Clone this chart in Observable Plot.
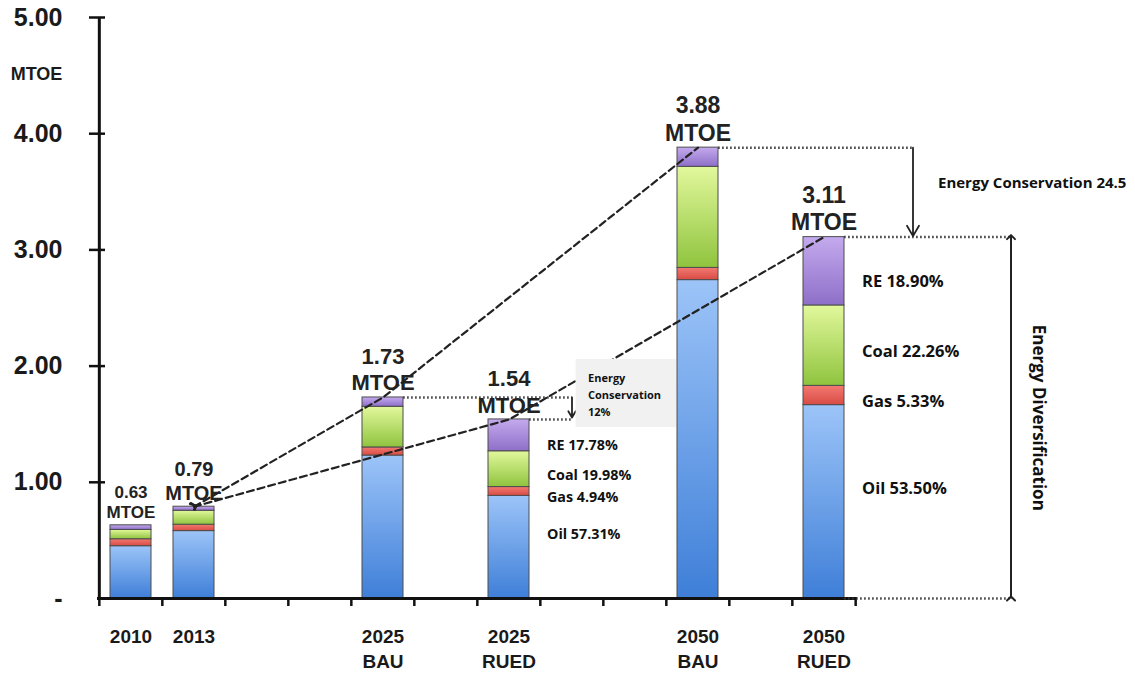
<!DOCTYPE html>
<html><head><meta charset="utf-8">
<script src="https://cdn.jsdelivr.net/npm/d3@7"></script>
<script src="https://cdn.jsdelivr.net/npm/@observablehq/plot@0.6"></script>
<style>body{margin:0;background:#fff;} svg{overflow:visible;}</style>
</head><body><div id="chart"></div>
<script>
// ---- data ----
const slots = ["2010","2013","gap1","gap2","2025 BAU","gap3","2025 RUED","gap4","gap5","2050 BAU","gap6","2050 RUED"];
const categories = ["2010","2013","2025 BAU","2025 RUED","2050 BAU","2050 RUED"];
const tickLabels = ["2010","2013","2025\nBAU","2025\nRUED","2050\nBAU","2050\nRUED"];
const fuels = ["Oil","Gas","Coal","RE"];
const oil  = [0.45, 0.58, 1.23, 0.883, 2.74, 1.664];
const gas  = [0.06, 0.055, 0.07, 0.076, 0.105, 0.166];
const coal = [0.08, 0.12, 0.35, 0.308, 0.87, 0.692];
const re   = [0.04, 0.035, 0.08, 0.274, 0.165, 0.588];
const totals = [0.63, 0.79, 1.73, 1.54, 3.88, 3.11];
const yTicks = [0, 1, 2, 3, 4, 5];
const shareCategories = ["2025 RUED", "2050 RUED"];
const oilShare  = ["57.31%", "53.50%"];
const gasShare  = ["4.94%", "5.33%"];
const coalShare = ["19.98%", "22.26%"];
const reShare   = ["17.78%", "18.90%"];
const bauPath  = ["2013", "2025 BAU", "2050 BAU"];
const ruedPath = ["2013", "2025 RUED", "2050 RUED"];
const conservation2025 = "Energy\nConservation\n12%";
const conservation2050 = "Energy Conservation 24.5";
const diversification = "Energy Diversification";

// ---- tables ----
const series = {Oil: oil, Gas: gas, Coal: coal, RE: re};
const shares = {Oil: oilShare, Gas: gasShare, Coal: coalShare, RE: reShare};
const tidy = [];
categories.forEach((c, i) => fuels.forEach(f => tidy.push({cat: c, fuel: f, value: series[f][i]})));
const totalOf = c => totals[categories.indexOf(c)];
const totalRows = categories.map((c, i) => ({cat: c, total: totals[i]}));
const paths = [
  ...bauPath.map(c => ({scen: "BAU", cat: c, total: totalOf(c)})),
  ...ruedPath.map(c => ({scen: "RUED", cat: c, total: totalOf(c)}))
];
const shareRows = [];
shareCategories.forEach((c, j) => {
  const i = categories.indexOf(c);
  let acc = 0;
  fuels.forEach(f => {
    const v = series[f][i];
    shareRows.push({cat: c, fuel: f, mid: acc + v / 2, label: f + " " + shares[f][j]});
    acc += v;
  });
});

// ---- layout ----
const W = 1135, H = 683, ML = 97, MR = 278, MT = 17, MB = 85;
const step = (W - ML - MR) / slots.length;
const bw = step * 0.65;
const gradIds = ["g-oil", "g-gas", "g-coal", "g-re"];
const labelSize = c => c === "2010" ? 17 : c === "2013" ? 20 : c.startsWith("2025") ? 22 : 23;
const pctSize = c => c.startsWith("2025") ? 14.3 : 16.5;
const pctDy = {Oil: -13, Gas: 6, Coal: 6, RE: 10};
const calib = "'Open Sans', 'Noto Sans', sans-serif";

const r2025 = [{y: totals[2], x1: "2025 BAU", x2: "2025 RUED"}];
const r2025b = [{y: totals[3], x1: "2025 RUED", x2: "2025 RUED"}];
const r2050 = [{y: totals[4], x1: "2050 BAU", x2: "2050 RUED"}];
const r2050b = [{y: totals[5], x1: "2050 RUED", x2: "2050 RUED"}, {y: 0, x1: "2050 RUED", x2: "2050 RUED"}];
const arr2025 = [{x: "gap4", y1: totals[2], y2: totals[3]}];
const arr2050 = [{x: "2050 RUED", y1: totals[4], y2: totals[5]}];
const div2050 = [{x: "2050 RUED", y1: 0, y2: totals[5]}];

const dotted = {stroke: "#333", strokeWidth: 2.5, strokeDasharray: "1.5,2.5"};

const plot = Plot.plot({
  width: W, height: H,
  marginLeft: ML, marginRight: MR, marginTop: MT, marginBottom: MB,
  style: {fontFamily: "'Liberation Sans', Arial, sans-serif", color: "#1a1a1a", overflow: "visible"},
  x: {type: "band", domain: slots, paddingInner: 0.35, paddingOuter: 0.175},
  y: {domain: [0, 5]},
  color: {type: "ordinal", domain: fuels, range: gradIds.map(id => `url(#${id})`)},
  marks: [
    Plot.barY(tidy, {x: "cat", y: "value", fill: "fuel", stroke: "#4d4d4d", strokeWidth: 1}),
    // axes lines
    Plot.ruleY([0], {strokeWidth: 3, stroke: "#111"}),
    Plot.ruleX([slots[0]], {x: d => d, y1: 0, y2: 5, dx: -step / 2, strokeWidth: 3, stroke: "#111"}),
    Plot.ruleY(yTicks.slice(1), {y: d => d, insetLeft: -8, insetRight: (W - ML - MR) - 8, strokeWidth: 2.5, stroke: "#111"}),
    Plot.ruleX(slots, {x: d => d, y1: 0, y2: 0, dx: -step / 2, insetBottom: -8, strokeWidth: 2.5, stroke: "#111"}),
    Plot.ruleX([slots[slots.length - 1]], {x: d => d, y1: 0, y2: 0, dx: step / 2, insetBottom: -8, strokeWidth: 2.5, stroke: "#111"}),
    // dashed trend lines
    Plot.line(paths, {x: "cat", y: "total", z: "scen", stroke: "#222", strokeWidth: 2.2, strokeDasharray: "7,4", markerStart: "arrow"}),
    // dotted guide lines
    Plot.ruleY(r2025, {y: "y", x1: "x1", x2: "x2", insetLeft: bw, insetRight: -(step - bw / 2), ...dotted}),
    Plot.ruleY(r2025b, {y: "y", x1: "x1", x2: "x2", insetLeft: bw, insetRight: -(step - bw / 2), ...dotted}),
    Plot.arrow(arr2025, {x1: "x", x2: "x", y1: "y1", y2: "y2", stroke: "#222", strokeWidth: 1.8, headLength: 9, insetEnd: 2}),
    Plot.ruleY(r2050, {y: "y", x1: "x1", x2: "x2", insetLeft: bw, insetRight: -68, ...dotted}),
    Plot.ruleY(r2050b, {y: "y", x1: "x1", x2: "x2", insetLeft: bw, insetRight: -168, ...dotted}),
    Plot.arrow(arr2050, {x1: "x", x2: "x", y1: "y1", y2: "y2", dx: 89, stroke: "#222", strokeWidth: 1.8, headLength: 10, insetEnd: 1}),
    Plot.link(div2050, {x1: "x", x2: "x", y1: "y1", y2: "y2", dx: 187, stroke: "#222", strokeWidth: 2, markerStart: "arrow", markerEnd: "arrow"}),
    // conservation 12% box
    Plot.rect([{x1: "gap4", x2: "gap5", y1: totals[3], y2: totals[2]}], {x1: "x1", x2: "x2", y1: "y1", y2: "y2", insetLeft: bw / 2 + 4, insetRight: -21, insetTop: -38, insetBottom: -8, fill: "#f1f1f1"}),
    Plot.text([conservation2025], {x: () => "gap4", y: () => totals[2], text: d => d, dx: 16, dy: -28, textAnchor: "start", lineAnchor: "top", lineHeight: 1.55, fontSize: 11, fontWeight: "bold", fontFamily: calib, fill: "#111"}),
    // totals labels
    Plot.text(totalRows, {x: "cat", y: "total", text: d => d.total.toFixed(2) + "\nMTOE", lineAnchor: "bottom", dy: -7, lineHeight: 1.2, fontSize: d => labelSize(d.cat), fontWeight: "bold", fill: "#222"}),
    // share labels
    ...fuels.map(f => Plot.text(shareRows.filter(r => r.fuel === f), {x: "cat", y: "mid", text: "label", dx: 38, dy: pctDy[f], textAnchor: "start", fontSize: d => pctSize(d.cat), fontWeight: "bold", fontFamily: calib, fill: "#111"})),
    // right annotations
    Plot.text([conservation2050], {x: () => "2050 RUED", y: () => (totals[4] + totals[5]) / 2, text: d => d, dx: 114, dy: -9, textAnchor: "start", fontSize: 15, fontWeight: "bold", fontFamily: calib, fill: "#111"}),
    Plot.text([diversification], {x: () => "2050 RUED", y: () => totals[5] / 2, text: d => d, dx: 214, rotate: 90, fontSize: 17, fontWeight: "bold", fontFamily: calib, fill: "#111"}),
    // axes
    Plot.axisY({ticks: yTicks, tickFormat: d => d === 0 ? "-" : d.toFixed(2), tickSize: 0, tickPadding: 35, fontSize: 25, fontWeight: "bold", label: null}),
    Plot.text(["MTOE"], {frameAnchor: "top-left", text: d => d, textAnchor: "middle", dx: -61, dy: 50, fontSize: 18, fontWeight: "bold", fill: "#1a1a1a"}),
    Plot.axisX({ticks: categories, tickFormat: d => tickLabels[categories.indexOf(d)], tickSize: 0, tickPadding: 26, fontSize: 19, fontWeight: "bold", lineHeight: 1.35, label: null})
  ]
});

// gradients
const svg = d3.select(plot);
const defs = svg.insert("defs", ":first-child");
const grads = [
  ["g-oil", "#9cc4f8", "#3f7fd8"],
  ["g-gas", "#f27a72", "#d94b44"],
  ["g-coal", "#e2f89c", "#8fc43e"],
  ["g-re", "#c4aaee", "#8e6fc8"]
];
grads.forEach(([id, a, b]) => {
  const g = defs.append("linearGradient").attr("id", id).attr("x1", 0).attr("y1", 0).attr("x2", 0).attr("y2", 1);
  g.append("stop").attr("offset", "0%").attr("stop-color", a);
  g.append("stop").attr("offset", "100%").attr("stop-color", b);
});
document.getElementById("chart").appendChild(plot);
</script>
</body></html>
